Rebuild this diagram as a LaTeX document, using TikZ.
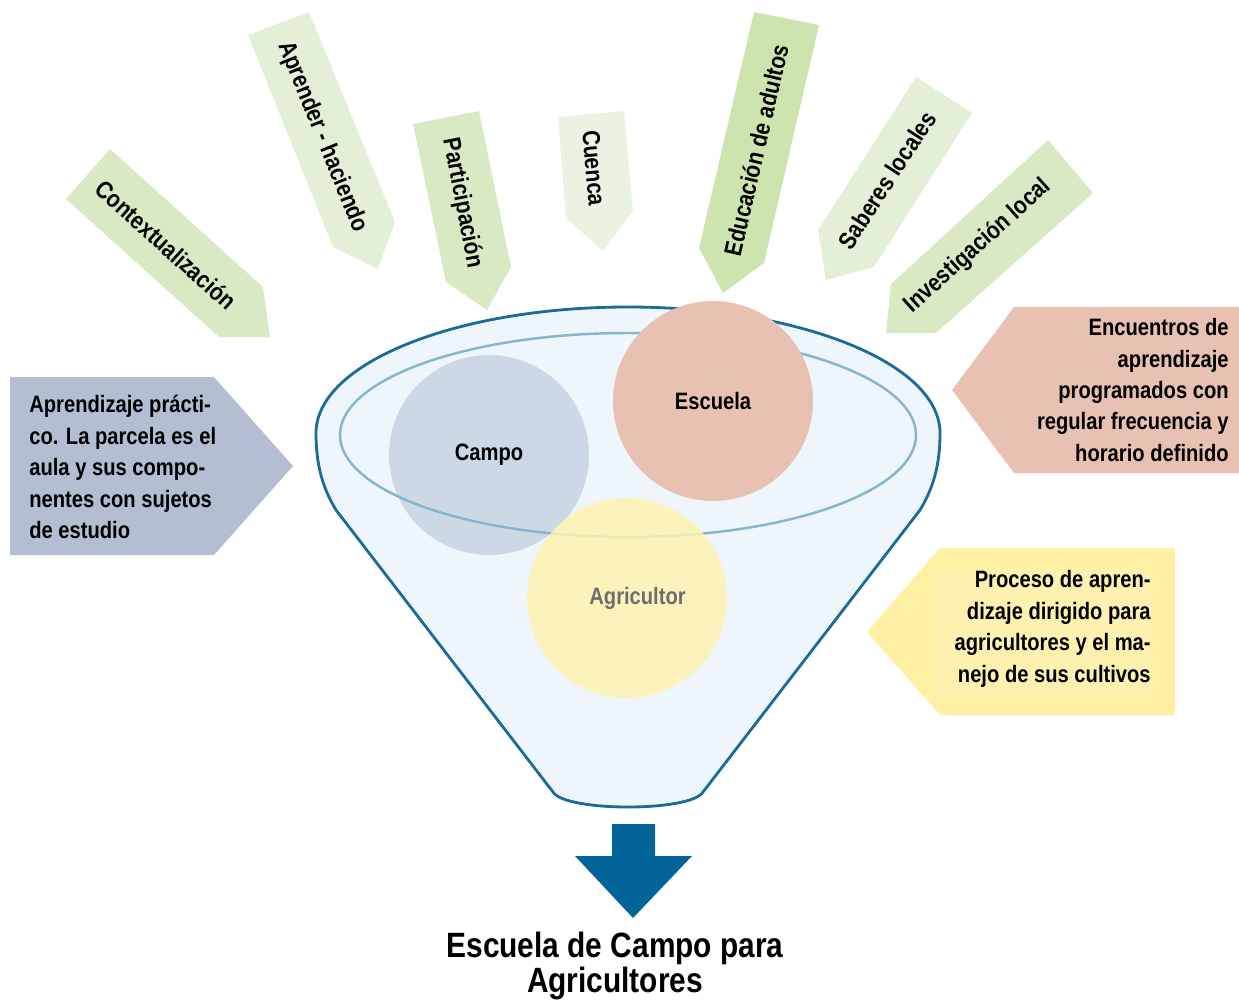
\documentclass[tikz,border=0pt]{standalone}
\usepackage{fontspec}
\setmainfont{Liberation Sans}
\newfontfamily\narrowsf[FakeStretch=0.85]{Liberation Sans}
\usetikzlibrary{positioning}

\definecolor{greenA}{HTML}{D8E9C4}
\definecolor{greenB}{HTML}{E3EFD6}
\definecolor{greenC}{HTML}{EAF3E1}
\definecolor{greenD}{HTML}{CDE4AE}
\definecolor{salmon}{HTML}{E8C1B2}
\definecolor{slate}{HTML}{B3BED3}
\definecolor{yellowA}{HTML}{FFF0A4}
\definecolor{yellowB}{HTML}{FEF1B0}
\definecolor{funfill}{HTML}{EEF6FC}
\definecolor{funline}{HTML}{1A6A9A}
\definecolor{rimline}{HTML}{86B5D0}
\definecolor{campoc}{HTML}{CDD8E6}
\definecolor{agric}{HTML}{FFF2B0}
\definecolor{darrow}{HTML}{03649A}

\begin{document}
\begin{tikzpicture}[x=0.02cm,y=0.02cm,
    lbl/.style={font=\narrowsf\bfseries\fontsize{14}{16}\selectfont,inner sep=0pt},
    note/.style={font=\narrowsf\bfseries\fontsize{13.5}{17.9}\selectfont,inner sep=0pt},
    ball/.style={circle,minimum size=4cm,inner sep=0pt,
                 font=\narrowsf\bfseries\fontsize{13.5}{16}\selectfont}]

  \useasboundingbox (0,0) rectangle (1239,-1001);

  % arrows on top
  \fill[greenA] (66,-199) -- (110,-149) -- (263,-287) -- (270,-337) -- (219,-337) -- cycle;
  \fill[greenB] (248,-35) -- (309,-12) -- (395,-222) -- (378,-269) -- (333,-247) -- cycle;
  \fill[greenA] (413,-124) -- (479,-111) -- (511,-267) -- (487,-310) -- (446,-282) -- cycle;
  \fill[greenC] (558,-117) -- (624,-111) -- (633,-211) -- (603,-251) -- (566,-218) -- cycle;
  \fill[greenD] (754,-12) -- (819,-25) -- (764,-263) -- (723,-293) -- (699,-248) -- cycle;
  \fill[greenB] (916,-77) -- (972,-113) -- (874,-267) -- (826,-280) -- (818,-230) -- cycle;
  \fill[greenA] (1048,-140) -- (1093,-193) -- (936,-333) -- (886,-333) -- (891,-284) -- cycle;

  \node[lbl,rotate=-42] (ctx) at (166,-245) {Contextualización};
  \node[lbl,rotate=-68] (apr) at (322,-137) {Aprender - haciendo};
  \node[lbl,rotate=-79] (par) at (462,-203) {Participación};
  \node[lbl,rotate=-85] (cue) at (594,-168) {Cuenca};
  \node[lbl,rotate=77] (edu) at (756,-150) {Educación de adultos};
  \node[lbl,rotate=57] (sab) at (887,-180) {Saberes locales};
  \node[lbl,rotate=42] (inv) at (978,-246) {Investigación local};

  % side notes
  \fill[slate] (10,-377) -- (214,-377) -- (293,-466) -- (214,-555) -- (10,-555) -- cycle;
  \node[note,anchor=west,align=left] (prac) at (29,-467)
    {Aprendizaje prácti-\\co. La parcela es el\\aula y sus compo-\\nentes con sujetos\\de estudio};

  \fill[salmon] (952,-390) -- (1014,-307) -- (1239,-307) -- (1239,-473) -- (1014,-473) -- cycle;
  \node[note,anchor=east,align=right] (enc) at (1229,-390)
    {Encuentros de\\aprendizaje\\programados con\\regular frecuencia y\\horario definido};

  \fill[yellowA] (867,-632) -- (940,-548) -- (1175,-548) -- (1175,-715) -- (940,-715) -- cycle;
  \fill[yellowB] (932,-570) rectangle (1151,-698);
  \node[note,anchor=east,align=right] (proc) at (1151,-629)
    {Proceso de apren-\\dizaje dirigido para\\agricultores y el ma-\\nejo de sus cultivos};

  % funnel
  \draw[funline,line width=1.6pt,fill=funfill]
    (316,-433) arc[start angle=180,end angle=0,x radius=312,y radius=126]
    .. controls (940,-468) and (932,-490) .. (920,-510)
    -- (703,-792) .. controls (691,-812) and (565,-812) .. (553,-792)
    -- (336,-510) .. controls (324,-490) and (316,-468) .. (316,-433);

  \node[ball,fill=campoc] (campo) at (489,-455) {Campo};
  \draw[rimline,line width=1.4pt] (628,-435) ellipse[x radius=288,y radius=102];
  \node[ball,fill=salmon] (escuela) at (713,-401) {Escuela};
  \node[ball,fill=agric,fill opacity=0.85,text opacity=1,text=black!57] (agri) at (627,-598) {\hspace*{12pt}Agricultor};

  % output
  \fill[darrow] (612,-824) -- (655,-824) -- (655,-856) -- (692,-856) -- (633,-918)
    -- (575,-856) -- (612,-856) -- cycle;
  \node[font=\narrowsf\bfseries\fontsize{20}{18}\selectfont,align=center,inner sep=0pt]
    (efa) at (615,-966) {Escuela de Campo para\\Agricultores};

\end{tikzpicture}
\end{document}
